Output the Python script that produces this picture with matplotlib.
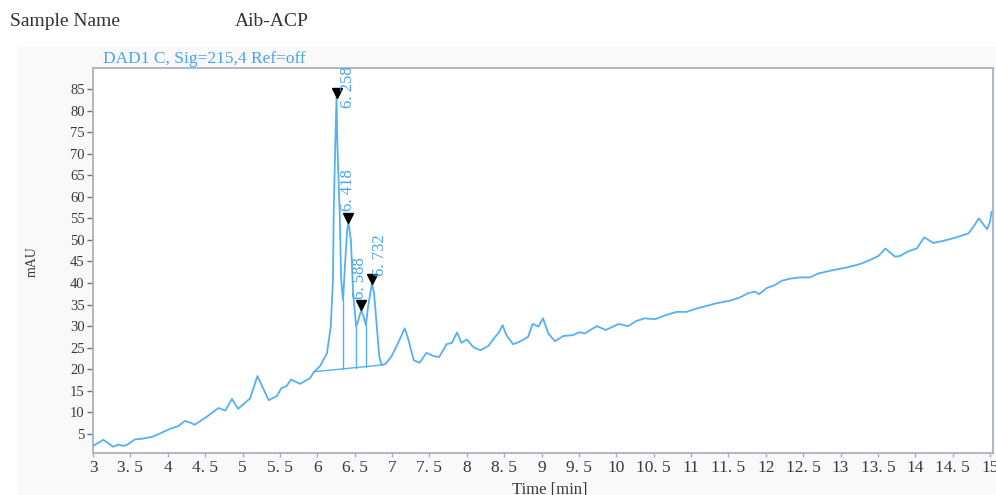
import numpy as np
import matplotlib
matplotlib.use("Agg")
import matplotlib.pyplot as plt
from matplotlib.patches import Rectangle
from matplotlib.transforms import offset_copy

plt.rcParams['font.family'] = ['Liberation Serif', 'DejaVu Serif']

# chromatogram trace, DAD1 C 215 nm
time_min = [3.00, 3.14, 3.27, 3.34, 3.41, 3.47, 3.56, 3.67, 3.79, 3.90,
            4.01, 4.14, 4.23, 4.30, 4.36, 4.50, 4.68, 4.77, 4.86, 4.94,
            5.10, 5.20, 5.35, 5.46, 5.52, 5.59, 5.65, 5.77, 5.90, 5.96,
            6.04, 6.13, 6.18, 6.21, 6.22, 6.24, 6.258, 6.27, 6.30, 6.32,
            6.345, 6.37, 6.40, 6.418, 6.45, 6.48, 6.52, 6.55, 6.588, 6.62,
            6.65, 6.68, 6.732, 6.76, 6.80, 6.83, 6.86, 6.91, 6.99, 7.08,
            7.17, 7.22, 7.29, 7.37, 7.46, 7.55, 7.63, 7.73, 7.80, 7.87,
            7.93, 8.00, 8.09, 8.18, 8.29, 8.38, 8.42, 8.48, 8.53, 8.62,
            8.71, 8.82, 8.88, 8.96, 9.02, 9.09, 9.18, 9.29, 9.42, 9.51,
            9.58, 9.74, 9.86, 10.03, 10.16, 10.27, 10.38, 10.52, 10.67, 10.81,
            10.94, 11.08, 11.21, 11.34, 11.52, 11.66, 11.77, 11.86, 11.91, 12.01,
            12.12, 12.21, 12.32, 12.46, 12.59, 12.70, 12.90, 13.08, 13.26, 13.39,
            13.51, 13.60, 13.73, 13.80, 13.91, 14.02, 14.12, 14.24, 14.38, 14.53,
            14.71, 14.78, 14.85, 14.96, 15.00, 15.02]
signal_mau = [2.2, 3.6, 2.0, 2.5, 2.2, 2.6, 3.7, 3.9, 4.3, 5.1,
              6.0, 6.8, 8.0, 7.6, 7.1, 8.7, 11.0, 10.4, 13.1, 10.8,
              13.2, 18.4, 12.8, 13.8, 15.6, 16.1, 17.6, 16.6, 17.9, 19.4,
              20.8, 23.7, 29.8, 40.7, 56.2, 71.6, 83.0, 71.6, 56.2, 40.7,
              36.0, 43.8, 52.3, 54.0, 50.0, 37.6, 29.9, 31.4, 33.8, 32.2,
              30.2, 34.5, 40.0, 37.6, 29.1, 22.9, 21.0, 21.2, 22.9, 26.0,
              29.5, 26.8, 22.1, 21.5, 23.8, 23.1, 22.8, 25.8, 26.1, 28.5,
              26.1, 26.9, 25.1, 24.4, 25.4, 27.5, 28.3, 30.2, 27.9, 25.8,
              26.4, 27.5, 30.5, 29.9, 31.8, 28.3, 26.5, 27.7, 27.9, 28.6,
              28.3, 30.0, 29.1, 30.5, 30.0, 31.2, 31.8, 31.6, 32.6, 33.3,
              33.3, 34.1, 34.7, 35.3, 35.9, 36.7, 37.7, 38.0, 37.4, 38.8,
              39.5, 40.5, 41.0, 41.3, 41.3, 42.2, 43.0, 43.6, 44.4, 45.3,
              46.3, 48.0, 46.1, 46.3, 47.4, 48.0, 50.6, 49.3, 49.8, 50.5,
              51.5, 53.1, 55.0, 52.5, 54.2, 56.5]

# integrated peaks: retention times and apex heights
peak_rt = [6.258, 6.418, 6.588, 6.732]
peak_height = [83.0, 54.0, 33.8, 40.0]
# label offsets in pixels (dx, dy of label bottom from apex)
label_dx = [11, 0, -1, 8]
label_dy = [-10, 12, 11, 7]

# integration baseline and drop lines between the peaks
baseline_t = [5.95, 6.88]
baseline_y = [19.4, 21.0]
drop_t = [6.345, 6.52, 6.65]

x_ticks = [3, 3.5, 4, 4.5, 5, 5.5, 6, 6.5, 7, 7.5, 8, 8.5, 9, 9.5, 10,
           10.5, 11, 11.5, 12, 12.5, 13, 13.5, 14, 14.5, 15]
y_ticks = list(range(5, 90, 5))

line_col = '#55B0F5'
text_col = '#4AA2EC'
tick_col = '#3A3A3A'
frame_col = '#A9B0C0'

fig = plt.figure(figsize=(9.96, 4.95), dpi=100)
fig.patch.set_facecolor('white')
fig.patches.append(Rectangle((18 / 996, 0), 1, 1 - 47 / 495, transform=fig.transFigure,
                             facecolor='#F9F9FA', edgecolor='none', zorder=-5))

ax = fig.add_axes([93 / 996, 1 - 453 / 495, 900 / 996, (453 - 68) / 495])
ax.set_facecolor('white')

ax.plot(time_min, signal_mau, color=line_col, lw=1.3, zorder=3)

# baseline + drop lines
ax.plot(baseline_t, baseline_y, color=line_col, lw=1.0, zorder=2)
for t in drop_t:
    top = np.interp(t, time_min, signal_mau)
    bot = np.interp(t, baseline_t, baseline_y)
    ax.plot([t, t], [bot, top], color=line_col, lw=1.0, zorder=2)

# apex markers with tip on the apex
ms = 7
tip = offset_copy(ax.transData, fig=fig, y=ms * 0.45, units='points')
ax.plot(peak_rt, peak_height, 'v', color='black', ms=ms, transform=tip, zorder=5,
        clip_on=False)
for rt, h, dx, dy in zip(peak_rt, peak_height, label_dx, label_dy):
    tr = offset_copy(ax.transData, fig=fig, x=dx * 0.72, y=dy * 0.72, units='points')
    ax.text(rt, h, f"{rt:.3f}".replace('.', '. '), transform=tr, rotation=90,
            ha='center', va='bottom', fontsize=12, color=text_col, clip_on=False,
            zorder=6)

ax.set_xlim(3, 15.04)
ax.set_ylim(0.55, 89.9)
ax.set_xticks(x_ticks)
ax.set_xticklabels([f"{v:g}".replace('.', '. ') for v in x_ticks])
ax.set_yticks(y_ticks)
ax.tick_params(axis='x', length=3, width=1, color=frame_col, labelsize=12.5,
               labelcolor=tick_col, pad=2)
ax.tick_params(axis='y', length=4, width=1, color='#707070', labelsize=10.5,
               labelcolor=tick_col, pad=2)
for s in ax.spines.values():
    s.set_color(frame_col)
    s.set_linewidth(1.3)

fig.text(10 / 996, 1 - 22 / 495, 'Sample Name', fontsize=14, color='#333333',
         ha='left', va='center')
fig.text(235 / 996, 1 - 22 / 495, 'Aib-ACP', fontsize=14, color='#333333',
         ha='left', va='center')
fig.text(103 / 996, 1 - 59 / 495, 'DAD1 C, Sig=215,4 Ref=off', fontsize=12.5,
         color=text_col, ha='left', va='center')
fig.text(32 / 996, 1 - 262 / 495, 'mAU', fontsize=10, color=tick_col, rotation=90,
         ha='center', va='center')
fig.text(550 / 996, 1 - 482 / 495, 'Time [min]', fontsize=12, color=tick_col,
         ha='center', va='top')

fig.savefig('out.png', dpi=100)
